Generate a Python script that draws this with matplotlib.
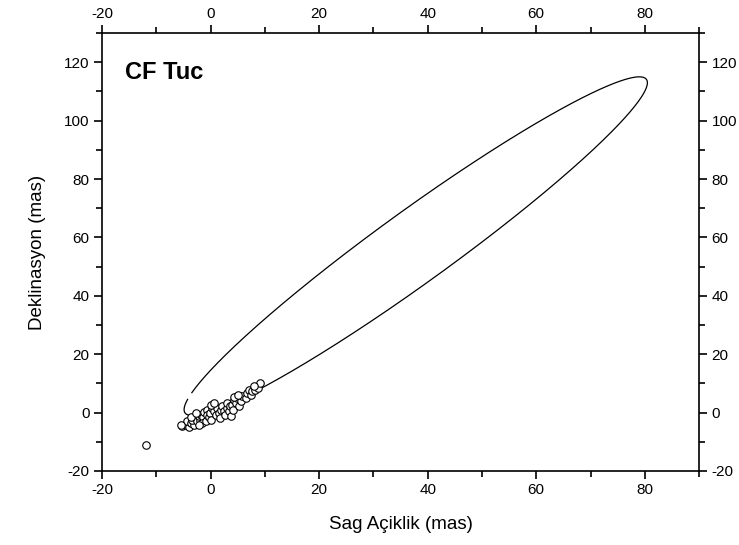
import numpy as np
import matplotlib
matplotlib.use("Agg")
import matplotlib.pyplot as plt
from matplotlib.ticker import MultipleLocator

plt.rcParams['font.family'] = ['Liberation Sans', 'DejaVu Sans']
plt.rcParams['axes.unicode_minus'] = False

# Observed relative positions (mas)
ra = [-5.21, -4.60, -3.99, -4.29, -3.56, -3.07, -3.37, -2.76, -2.45, -1.96,
      -2.15, -1.72, -1.35, -1.53, -0.92, -1.23, -0.61, -0.74, -0.31, -0.12,
      0.31, 0.12, 0.61, 0.92, 1.23, 1.53, 1.84, 1.72, 2.15, 2.45,
      2.58, 2.94, 3.07, 3.37, 3.56, 3.80, 3.99, 4.29, 4.17, 4.60,
      4.91, 5.21, 5.52, 5.83, 6.44, 6.75, 7.05, 7.36, 7.67, 8.28,
      8.71, 9.08, 7.97, 0.00, 0.61, -2.15, -3.68, -2.76, 4.30, 5.00,
      -5.50, -11.8]
dec = [-4.68, -4.11, -5.02, -2.97, -3.54, -4.11, -2.40, -1.83, -2.97, -2.40,
       -1.26, -0.68, -1.60, -3.54, -2.97, 0.23, 1.03, -0.68, -1.60, -0.11,
       1.60, -2.40, 0.46, -0.91, 1.60, -0.11, 1.03, -1.83, 2.17, 0.68,
       -0.68, 1.60, 3.31, 0.46, 2.17, -1.26, 2.74, 4.45, 1.03, 3.31,
       5.02, 2.17, 3.88, 5.59, 5.02, 6.74, 7.88, 6.16, 7.31, 7.88,
       8.45, 10.16, 9.02, 2.74, 3.31, -4.11, -1.60, -0.11, 5.50, 6.00,
       -4.20, -11.0]

# Apparent orbit model: ellipse with centre, half-height, horizontal
# half-width and slope of the line of chord midpoints
orbit_xc = 37.8
orbit_yc = 57.0
orbit_half_height = 58.0
orbit_half_width = 11.2
orbit_slope = 0.71
gap_start_deg = 239.9
gap_end_deg = 244.8

xticks = [-20, 0, 20, 40, 60, 80]
yticks = [-20, 0, 20, 40, 60, 80, 100, 120]

th = np.radians(np.linspace(gap_end_deg, gap_start_deg + 360.0, 1000))
ey = orbit_yc + orbit_half_height * np.sin(th)
ex = (orbit_xc + orbit_slope * orbit_half_height * np.sin(th)
      + orbit_half_width * np.cos(th))

fig = plt.figure(figsize=(7.39, 5.45), dpi=100)
ax = fig.add_axes([0.138, 0.1358, 0.808, 0.8036])

ax.plot(ex, ey, color='black', lw=0.9)
ax.plot(ra, dec, linestyle='none', marker='o', markersize=5.4,
        markerfacecolor='white', markeredgecolor='black', markeredgewidth=0.8)

ax.set_xlim(-20, 90)
ax.set_ylim(-20, 130)
ax.set_xticks(xticks)
ax.set_yticks(yticks)
ax.xaxis.set_minor_locator(MultipleLocator(10))
ax.yaxis.set_minor_locator(MultipleLocator(10))
ax.tick_params(which='both', direction='out', top=True, right=True,
               labeltop=True, labelright=True, width=1.2, labelsize=11)
ax.tick_params(which='major', length=5.5)
ax.tick_params(which='minor', length=4)
for s in ax.spines.values():
    s.set_linewidth(1.2)

ax.set_xlabel('Sag Açiklik (mas)', fontsize=13.5, labelpad=13)
ax.set_ylabel('Deklinasyon (mas)', fontsize=13.5, labelpad=13)
ax.text(0.038, 0.911, 'CF Tuc', transform=ax.transAxes, fontsize=17,
        fontweight='bold', va='center', ha='left')

fig.savefig('out.png', dpi=100)
